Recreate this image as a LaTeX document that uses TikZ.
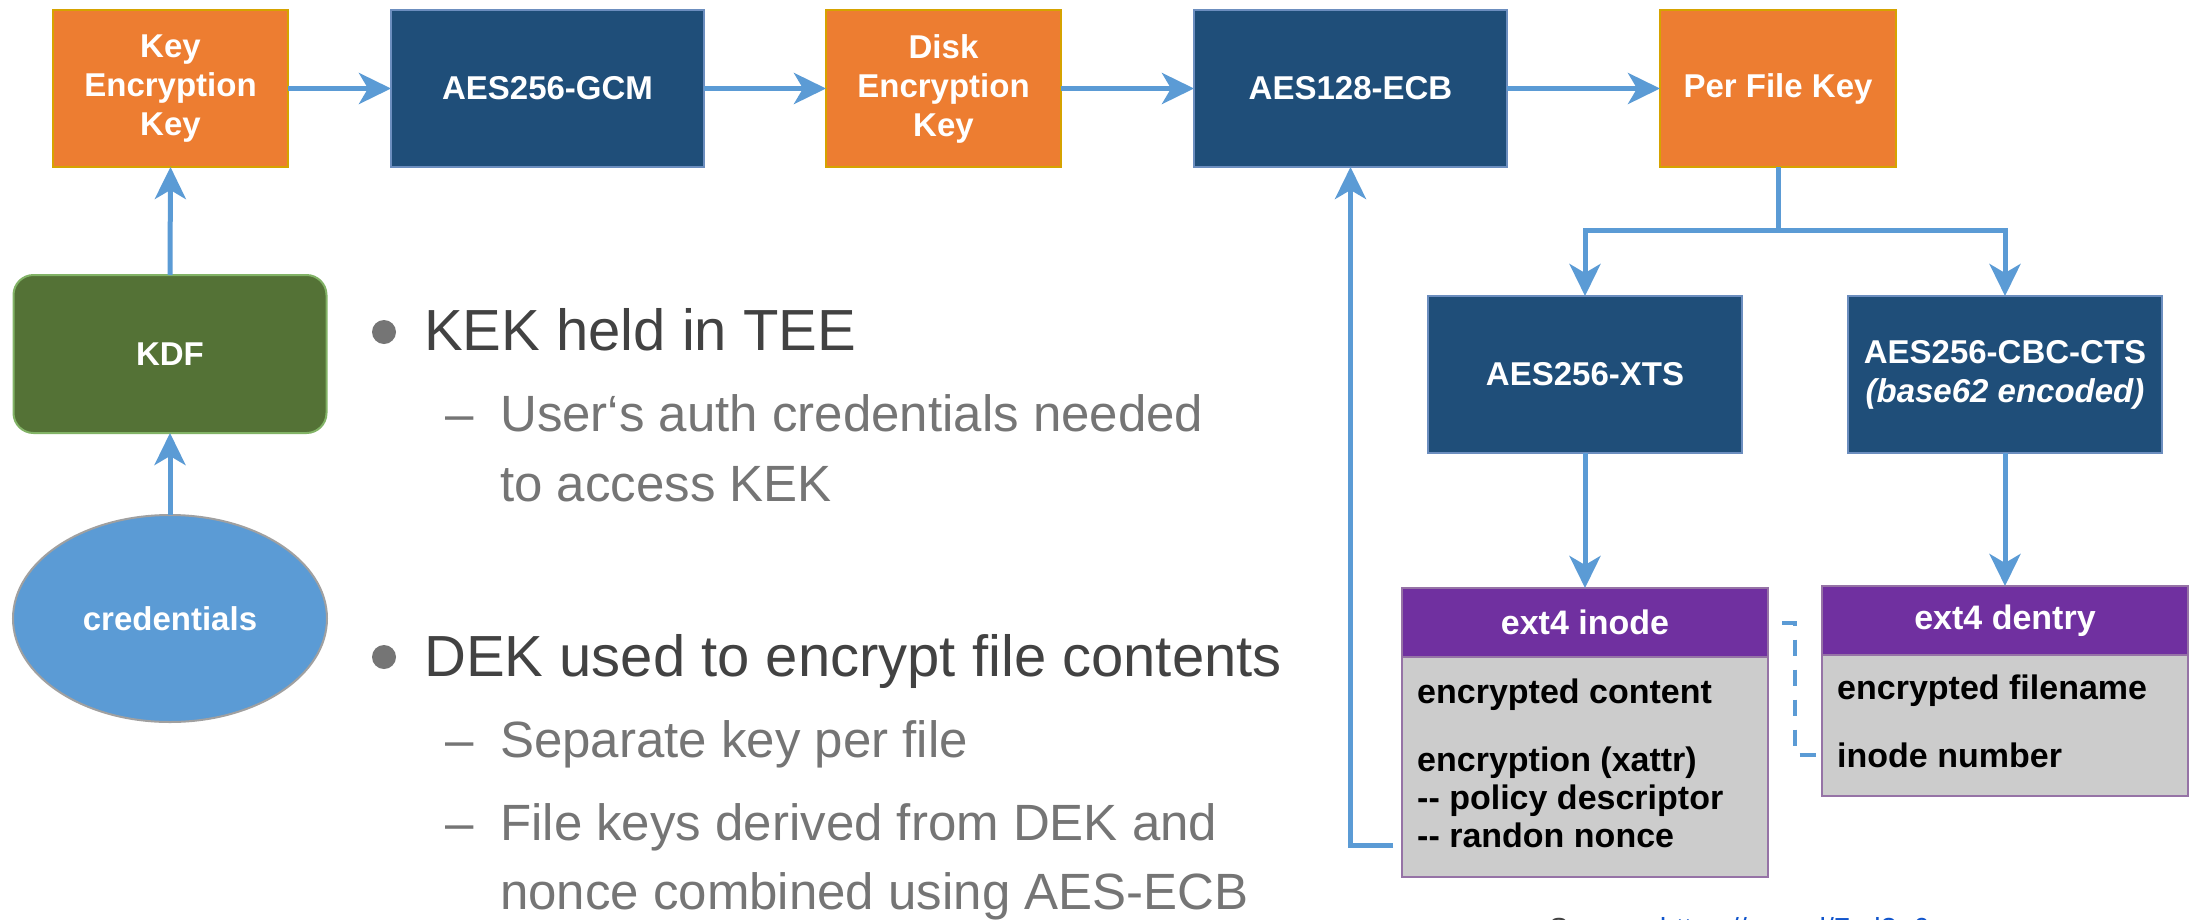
\documentclass[tikz,border=0pt]{standalone}
\usepackage{fontspec}
\usetikzlibrary{arrows.meta,shapes.geometric}

\newfontfamily\diagfont{Liberation Sans}

\definecolor{orangefill}{HTML}{ED7D31}
\definecolor{orangeedge}{HTML}{D6A300}
\definecolor{navyfill}{HTML}{1F4E79}
\definecolor{navyedge}{HTML}{6C8EBF}
\definecolor{kdffill}{HTML}{547236}
\definecolor{kdfedge}{HTML}{82B366}
\definecolor{credfill}{HTML}{5B9BD5}
\definecolor{credge}{HTML}{A0A0A0}
\definecolor{purplefill}{HTML}{7030A0}
\definecolor{purpleedge}{HTML}{9673A6}
\definecolor{fieldgray}{HTML}{CCCCCC}
\definecolor{flowblue}{HTML}{5B9BD5}
\definecolor{textdark}{HTML}{424242}
\definecolor{textlight}{HTML}{757575}
\definecolor{linkblue}{HTML}{1155CC}

\newcommand\boxlabel{\diagfont\bfseries\fontsize{33}{39}\selectfont}
\newcommand\fieldlabel{\diagfont\bfseries\fontsize{34}{38}\selectfont}
\newcommand\levelone{\diagfont\fontsize{58}{68}\selectfont}
\newcommand\leveltwo{\diagfont\fontsize{51}{62}\selectfont}

\tikzset{
  keybox/.style={draw=orangeedge, fill=orangefill, line width=2pt,
    minimum width=235pt, minimum height=157pt, inner sep=0pt, outer sep=0pt,
    text=white, font=\boxlabel, align=center},
  cipherbox/.style={draw=navyedge, fill=navyfill, line width=2pt,
    minimum width=313pt, minimum height=157pt, inner sep=0pt, outer sep=0pt,
    text=white, font=\boxlabel, align=center},
  kdfbox/.style={draw=kdfedge, fill=kdffill, line width=2pt, rounded corners=20pt,
    minimum width=313pt, minimum height=158pt, inner sep=0pt, outer sep=0pt,
    text=white, font=\boxlabel},
  credshape/.style={ellipse, draw=credge, fill=credfill, line width=2pt,
    minimum width=314pt, minimum height=207pt, inner sep=0pt, outer sep=0pt,
    text=white, font=\boxlabel},
  headbox/.style={draw=purpleedge, fill=purplefill, line width=2pt,
    minimum width=366pt, minimum height=69pt, inner sep=0pt, outer sep=0pt,
    text=white, font=\fieldlabel},
  fieldbox/.style={draw=purpleedge, fill=fieldgray, line width=2pt,
    minimum width=366pt, inner sep=0pt, outer sep=0pt},
  fieldtext/.style={anchor=base west, inner sep=0pt, font=\fieldlabel, text=black},
  bulletdot/.style={circle, fill=textlight, minimum size=24pt, inner sep=0pt},
  topline/.style={anchor=base west, inner sep=0pt, font=\levelone, text=textdark},
  subline/.style={anchor=base west, inner sep=0pt, font=\leveltwo, text=textlight},
  flow/.style={draw=flowblue, line width=5pt},
  flowarrow/.style={flow, -{Stealth[length=32pt, width=31pt, inset=9pt]}},
  linkline/.style={draw=flowblue, line width=4pt, dash pattern=on 16pt off 14pt, dash phase=16pt}
}

\begin{document}
\begin{tikzpicture}[x=1pt, y=-1pt]
\useasboundingbox[fill=white] (0,0) rectangle (2195,919);

% key chain across the top
\node[keybox] (kek) at (170.5,88.5) {Key\\Encryption\\Key};
\node[cipherbox] (gcm) at (547.5,88.5) {AES256-GCM};
\node[keybox] (dek) at (943.5,88.5) {Disk\\Encryption\\Key};
\node[cipherbox] (ecb) at (1350.5,88.5) {AES128-ECB};
\node[keybox, minimum width=236pt] (pfk) at (1778,88.5) {Per File Key};

% key derivation from the user's credentials
\node[kdfbox] (kdf) at (170,354) {KDF};
\node[credshape] (cred) at (170,618.5) {credentials};

% per-file ciphers
\node[cipherbox, minimum width=314pt] (xts) at (1585,374.5) {AES256-XTS};
\node[cipherbox, minimum width=314pt] (cbc) at (2005,374.5)
  {AES256-CBC-CTS\\\textit{(base62 encoded)}};

% ext4 structures
\node[fieldbox, minimum height=220pt] (ib) at (1585,767) {};
\node[headbox] (ih) at (1585,622.5) {ext4 inode};
\node[fieldbox, minimum height=141pt] (db) at (2005,725.5) {};
\node[headbox] (dh) at (2005,620.5) {ext4 dentry};

\node[fieldtext] (icontent) at (1417,703) {encrypted content};
\node[fieldtext] (ixattr) at (1417,771) {encryption (xattr)};
\node[fieldtext] (ipolicy) at (1417,809) {-\kern0pt- policy descriptor};
\node[fieldtext] (inonce) at (1417,847) {-\kern0pt- randon nonce};
\node[fieldtext] (dname) at (1837,699) {encrypted filename};
\node[fieldtext] (dinode) at (1837,767) {inode number};

% connectors
\draw[flowarrow] (kek) -- (gcm);
\draw[flowarrow] (gcm) -- (dek);
\draw[flowarrow] (dek) -- (ecb);
\draw[flowarrow] (ecb) -- (pfk);
\draw[flowarrow] (cred.north) -- (kdf.south);
\draw[flowarrow] (kdf.north) -- (kek.south);

\coordinate (split) at (1778,230);
\draw[flow] (pfk.south) -- (split);
\draw[flowarrow] (split) -| (xts.north);
\draw[flowarrow] (split) -| (cbc.north);
\draw[flowarrow] (xts.south) -- (ih.north);
\draw[flowarrow] (cbc.south) -- (dh.north);

\coordinate (noncefeed) at (1393,845);
\draw[flowarrow] (noncefeed) -| (ecb.south);

\coordinate (inoderef) at (1822,755);
\draw[linkline] (ih.east) -- (1795,622.5) |- (inoderef);

% slide bullets
\node[bulletdot] (dot1) at (384,332) {};
\node[topline] (kekline) at (424,350) {KEK held in TEE};
\node[subline] (dash1) at (445,431) {–};
\node[subline] (authline) at (500,431) {User‘s auth credentials needed};
\node[subline] (authline2) at (500,501) {to access KEK};

\node[bulletdot] (dot2) at (384,657) {};
\node[topline] (dekline) at (424,676) {DEK used to encrypt file contents};
\node[subline] (dash2) at (445,757) {–};
\node[subline] (sepline) at (500,757) {Separate key per file};
\node[subline] (dash3) at (445,840) {–};
\node[subline] (fileline) at (500,840) {File keys derived from DEK and};
\node[subline] (fileline2) at (500,909) {nonce combined using AES-ECB};

% source reference along the lower edge
\begin{scope}
  \clip (0,0) rectangle (2195,919);
  \node[anchor=base west, inner sep=0pt, font=\diagfont\fontsize{29}{34}\selectfont]
    (source) at (1549,938) {\textcolor{textdark}{Source: }\textcolor{linkblue}{https://goo.gl/7zd3o6}};
\end{scope}
\end{tikzpicture}
\end{document}
